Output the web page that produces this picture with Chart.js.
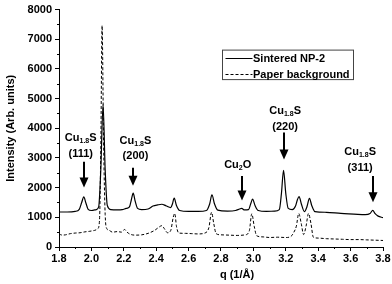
<!DOCTYPE html>
<html><head><meta charset="utf-8">
<script src="https://cdn.jsdelivr.net/npm/chart.js@4.4.1/dist/chart.umd.min.js"></script>
<style>html,body{margin:0;padding:0;background:#fff}</style>
</head><body>
<canvas id="c" width="392" height="284" style="display:block;width:392px;height:284px"></canvas>
<script>
// ---- data ----
const sinteredQ = [1.80,1.85,1.90,1.925,1.94,1.953,1.965,1.98,2.00,2.03,2.045,2.058,2.072,2.085,2.098,2.12,2.16,2.19,2.215,2.235,2.247,2.258,2.27,2.285,2.31,2.35,2.38,2.41,2.435,2.46,2.49,2.50,2.511,2.525,2.545,2.60,2.66,2.71,2.73,2.744,2.76,2.78,2.84,2.89,2.915,2.928,2.945,2.97,2.983,2.995,3.01,3.03,3.08,3.13,3.16,3.173,3.186,3.20,3.215,3.24,3.26,3.272,3.282,3.296,3.315,3.33,3.346,3.36,3.38,3.45,3.54,3.62,3.69,3.72,3.737,3.75,3.77,3.80];
const sinteredI = [1180,1180,1200,1270,1500,1690,1500,1270,1230,1260,1350,2600,4800,2600,1400,1260,1250,1260,1300,1350,1600,1815,1550,1300,1260,1280,1380,1420,1440,1390,1330,1450,1650,1400,1230,1200,1200,1230,1450,1760,1450,1240,1210,1230,1280,1300,1250,1260,1450,1610,1400,1230,1200,1210,1260,1800,2580,1800,1300,1260,1380,1600,1700,1450,1190,1350,1640,1400,1190,1170,1130,1110,1090,1130,1235,1130,1040,990];
const paperQ = [1.80,1.82,1.84,1.87,1.90,1.93,1.96,1.99,2.02,2.04,2.05,2.058,2.066,2.075,2.085,2.095,2.11,2.13,2.16,2.185,2.205,2.22,2.24,2.27,2.31,2.35,2.39,2.42,2.435,2.45,2.47,2.49,2.505,2.515,2.525,2.54,2.58,2.62,2.66,2.70,2.725,2.742,2.755,2.77,2.80,2.85,2.90,2.95,2.975,2.99,3.005,3.02,3.06,3.10,3.15,3.20,3.23,3.25,3.265,3.28,3.295,3.31,3.325,3.34,3.355,3.37,3.40,3.45,3.50,3.55,3.60,3.65,3.70,3.75,3.80];
const paperI = [440,400,410,450,470,480,510,530,560,620,900,3300,7460,3600,1100,620,560,500,520,500,590,500,430,400,410,460,560,680,720,620,480,560,1000,1130,700,470,460,450,440,470,650,1170,800,450,410,400,390,410,550,1120,700,380,340,320,330,320,350,500,700,1130,800,420,700,1130,800,330,300,280,270,260,250,250,240,230,220];
const seriesLabels = ['Sintered NP-2', 'Paper background'];
const xTickValues = [1.8,2.0,2.2,2.4,2.6,2.8,3.0,3.2,3.4,3.6,3.8];
const yTickValues = [0,1000,2000,3000,4000,5000,6000,7000,8000];
const xTitle = 'q (1/Å)';
const yTitle = 'Intensity (Arb. units)';
// peak annotations
const peakBase = ['Cu','Cu','Cu','Cu','Cu'];
const peakSub = ['1.8','1.8','2','1.8','1.8'];
const peakTail = ['S','S','O','S','S'];
const peakHkl = ['(111)','(200)','','(220)','(311)'];
const peakLabelQ = [1.934,2.272,2.903,3.196,3.659];
const peakLabelI = [3660,3575,2755,4580,3190];
const arrowQ = [1.953,2.258,2.928,3.19,3.736];
const arrowTopI = [2870,2670,2390,3860,2390];
const arrowTipI = [2005,2060,1565,2945,1510];

const FONT = '"Liberation Sans", Arial, sans-serif';
const tickFont = {family: FONT, size: 11, weight: 'bold'};

const decor = {
  id: 'decor',
  afterDraw(chart) {
    const {ctx, chartArea: ca, scales: {x, y}} = chart;
    ctx.save();
    ctx.strokeStyle = '#000';
    ctx.fillStyle = '#000';
    ctx.lineWidth = 1;
    // minor ticks
    for (let i = 0; i < xTickValues.length - 1; i++) {
      const v = (xTickValues[i] + xTickValues[i + 1]) / 2;
      const px = Math.round(x.getPixelForValue(v)) + 0.5;
      ctx.beginPath(); ctx.moveTo(px, ca.bottom); ctx.lineTo(px, ca.bottom + 2); ctx.stroke();
    }
    for (let i = 0; i < yTickValues.length - 1; i++) {
      const v = (yTickValues[i] + yTickValues[i + 1]) / 2;
      const py = Math.round(y.getPixelForValue(v)) + 0.5;
      ctx.beginPath(); ctx.moveTo(ca.left, py); ctx.lineTo(ca.left - 2, py); ctx.stroke();
    }
    // x title
    ctx.font = 'bold 11px ' + FONT;
    ctx.textAlign = 'center';
    ctx.textBaseline = 'middle';
    ctx.fillText(xTitle, ca.left + 178, 275);
    // annotations
    for (let i = 0; i < peakBase.length; i++) {
      const cx = x.getPixelForValue(peakLabelQ[i]);
      const cy = y.getPixelForValue(peakLabelI[i]);
      const big = 'bold 11px ' + FONT, small = 'bold 7px ' + FONT;
      ctx.font = big; const w1 = ctx.measureText(peakBase[i]).width;
      const w3 = ctx.measureText(peakTail[i]).width;
      ctx.font = small; const w2 = ctx.measureText(peakSub[i]).width;
      let sx = cx - (w1 + w2 + w3) / 2;
      ctx.textAlign = 'left';
      ctx.font = big; ctx.fillText(peakBase[i], sx, cy);
      ctx.font = small; ctx.fillText(peakSub[i], sx + w1, cy + 3);
      ctx.font = big; ctx.fillText(peakTail[i], sx + w1 + w2, cy);
      if (peakHkl[i]) {
        ctx.textAlign = 'center';
        ctx.fillText(peakHkl[i], cx, cy + 15.5);
      }
      // arrow
      const ax = Math.round(x.getPixelForValue(arrowQ[i]));
      const at = y.getPixelForValue(arrowTopI[i]);
      const ab = y.getPixelForValue(arrowTipI[i]);
      ctx.lineWidth = 2;
      ctx.beginPath(); ctx.moveTo(ax, at); ctx.lineTo(ax, ab - 7); ctx.stroke();
      ctx.beginPath(); ctx.moveTo(ax - 4.5, ab - 10); ctx.lineTo(ax + 4.5, ab - 10); ctx.lineTo(ax, ab); ctx.closePath(); ctx.fill();
    }
    // legend
    const lx = ca.left + 163.5, ly = ca.top + 40.5, lw = 131, lh = 29.5;
    ctx.lineWidth = 1;
    ctx.strokeStyle = '#444';
    ctx.setLineDash([]);
    ctx.strokeRect(lx, ly, lw, lh);
    chart.data.datasets.forEach((ds, i) => {
      const yy = Math.round(ly + 8 + i * 15.4) + 0.5;
      ctx.strokeStyle = ds.borderColor;
      ctx.lineWidth = 1;
      ctx.setLineDash(ds.borderDash || []);
      ctx.beginPath(); ctx.moveTo(lx + 3, yy); ctx.lineTo(lx + 30, yy); ctx.stroke();
      ctx.setLineDash([]);
      ctx.font = 'bold 11px ' + FONT;
      ctx.textAlign = 'left';
      ctx.textBaseline = 'middle';
      ctx.fillText(ds.label, lx + 30.5, yy + 0.5);
    });
    ctx.restore();
  }
};

new Chart(document.getElementById('c').getContext('2d'), {
  type: 'line',
  data: {
    datasets: [
      {label: seriesLabels[0], data: sinteredQ.map((q, i) => ({x: q, y: sinteredI[i]})), borderColor: '#000', borderWidth: 1.2, pointRadius: 0, fill: false, cubicInterpolationMode: 'monotone'},
      {label: seriesLabels[1], data: paperQ.map((q, i) => ({x: q, y: paperI[i]})), borderColor: '#000', borderWidth: 1, borderDash: [3, 2], pointRadius: 0, fill: false, cubicInterpolationMode: 'monotone'}
    ]
  },
  options: {
    responsive: false, animation: false, devicePixelRatio: 1,
    layout: {padding: {left: 0, right: 9, top: 6, bottom: 0}},
    plugins: {legend: {display: false}, tooltip: {enabled: false}},
    scales: {
      x: {
        type: 'linear', min: 1.8, max: 3.8,
        afterBuildTicks: s => { s.ticks = xTickValues.map(v => ({value: v})); },
        ticks: {callback: v => Number(v).toFixed(1), font: tickFont, color: '#000', padding: 1, maxRotation: 0, autoSkip: false},
        grid: {drawOnChartArea: false, drawTicks: true, tickLength: 4, color: '#000', tickColor: '#000'},
        border: {color: '#000', width: 1},
        afterFit: s => { s.height = 37; }
      },
      y: {
        type: 'linear', min: 0, max: 8000,
        afterBuildTicks: s => { s.ticks = yTickValues.map(v => ({value: v})); },
        ticks: {callback: v => String(v), font: tickFont, color: '#000', padding: 3, autoSkip: false},
        grid: {drawOnChartArea: false, drawTicks: true, tickLength: 4, color: '#000', tickColor: '#000'},
        border: {color: '#000', width: 1},
        title: {display: true, text: yTitle, font: tickFont, color: '#000', padding: {top: 4, bottom: 0}},
        afterFit: s => { s.width = 59; }
      }
    }
  },
  plugins: [decor]
});
</script>
</body></html>
